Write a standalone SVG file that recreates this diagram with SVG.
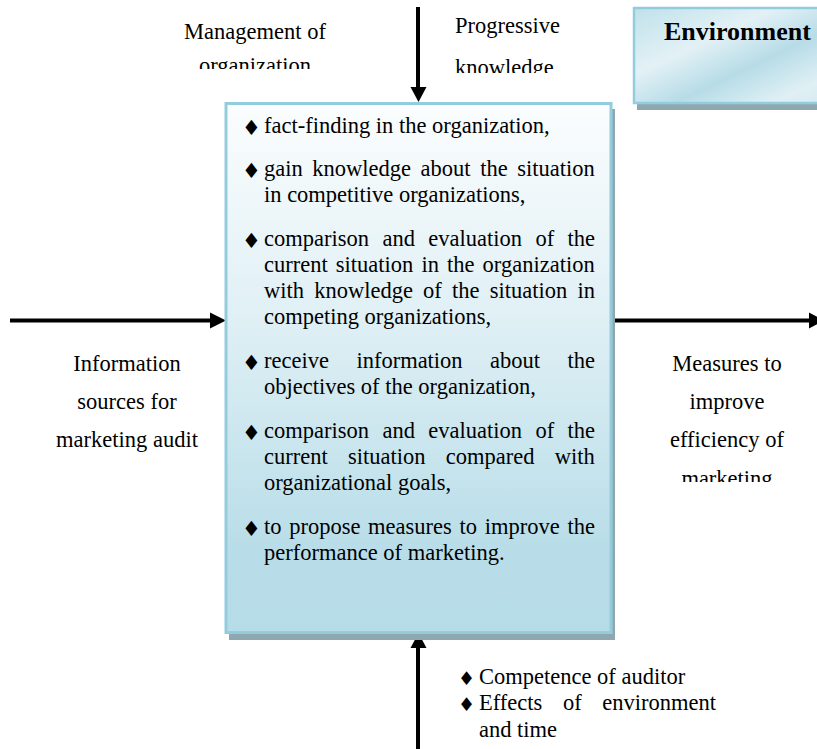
<svg xmlns="http://www.w3.org/2000/svg" width="817" height="749" viewBox="0 0 817 749">
  <style>
    .t { font-family: "Liberation Serif", "Times New Roman", serif; font-size: 22.5px; fill: #000; }
    .c { text-anchor: middle; }
    .b { font-family: "DejaVu Sans", sans-serif; font-size: 21px; fill: #000; }
    .bs { font-family: "DejaVu Sans", sans-serif; font-size: 19px; fill: #000; }
    .h { font-family: "Liberation Serif", "Times New Roman", serif; font-size: 26px; font-weight: bold; fill: #000; }
    .shadow { fill: #8FA8B0; }
    .arrow { stroke: #000; stroke-width: 4; fill: none; }
    .head { fill: #000; }
  </style>
  <defs>
    <linearGradient id="boxFill" x1="0" y1="0" x2="0" y2="1">
      <stop offset="0" stop-color="#FBFDFE"/>
      <stop offset="0.4" stop-color="#E0F0F5"/>
      <stop offset="0.85" stop-color="#B8DDE8"/>
      <stop offset="1" stop-color="#B6DCE7"/>
    </linearGradient>
    <linearGradient id="envFill" x1="0" y1="0" x2="1" y2="1">
      <stop offset="0" stop-color="#BFE1EA"/>
      <stop offset="0.35" stop-color="#E3F1F6"/>
      <stop offset="0.6" stop-color="#B7DCE7"/>
      <stop offset="0.85" stop-color="#E0F0F5"/>
      <stop offset="1" stop-color="#D2EAF1"/>
    </linearGradient>
    <clipPath id="clipMgmt"><rect x="150" y="0" width="220" height="69"/></clipPath>
    <clipPath id="clipProg"><rect x="440" y="0" width="140" height="73"/></clipPath>
    <clipPath id="clipMeas"><rect x="640" y="340" width="175" height="142"/></clipPath>
  </defs>

  <!-- connectors -->
  <g id="connectors">
    <line class="arrow" x1="418" y1="7" x2="418" y2="89"/>
    <polygon class="head" points="410.5,87 426.5,87 418.5,102"/>
    <line class="arrow" x1="418" y1="749" x2="418" y2="646"/>
    <polygon class="head" points="410.5,648 426.5,648 418.5,633"/>
    <line class="arrow" x1="10" y1="320.5" x2="212" y2="320.5"/>
    <polygon class="head" points="210,312.5 210,328.5 226,320.5"/>
    <line class="arrow" x1="612" y1="320.5" x2="812" y2="320.5"/>
    <polygon class="head" points="809,312.5 809,328.5 824,320.5"/>
  </g>

  <!-- central process box -->
  <g id="audit-box">
    <rect class="shadow" x="229" y="109" width="386" height="531"/>
    <rect x="226" y="103.5" width="385" height="529" fill="url(#boxFill)" stroke="#93CDDD" stroke-width="3"/>
    <g class="b">
      <text x="242" y="135">♦</text>
      <text x="242" y="178">♦</text>
      <text x="242" y="248">♦</text>
      <text x="242" y="370">♦</text>
      <text x="242" y="440">♦</text>
      <text x="242" y="536">♦</text>
    </g>
    <text class="t" x="264" y="133">fact-finding in the organization,</text>
    <text class="t" y="176"><tspan x="264">gain</tspan><tspan x="312.3">knowledge</tspan><tspan x="420.6">about</tspan><tspan x="480.2">the</tspan><tspan x="517.3">situation</tspan></text>
    <text class="t" x="264" y="202">in competitive organizations,</text>
    <text class="t" y="246"><tspan x="264">comparison</tspan><tspan x="382.4">and</tspan><tspan x="428.3">evaluation</tspan><tspan x="535.4">of</tspan><tspan x="567.5">the</tspan></text>
    <text class="t" y="272"><tspan x="264">current</tspan><tspan x="335.8">situation</tspan><tspan x="421.4">in</tspan><tspan x="447">the</tspan><tspan x="482.6">organization</tspan></text>
    <text class="t" y="298"><tspan x="264">with</tspan><tspan x="314.2">knowledge</tspan><tspan x="423.1">of</tspan><tspan x="452">the</tspan><tspan x="489.7">situation</tspan><tspan x="577.4">in</tspan></text>
    <text class="t" x="264" y="324">competing organizations,</text>
    <text class="t" y="368"><tspan x="264">receive</tspan><tspan x="356.4">information</tspan><tspan x="490">about</tspan><tspan x="567.4">the</tspan></text>
    <text class="t" x="264" y="394">objectives of the organization,</text>
    <text class="t" y="438"><tspan x="264">comparison</tspan><tspan x="382.4">and</tspan><tspan x="428.3">evaluation</tspan><tspan x="535.4">of</tspan><tspan x="567.5">the</tspan></text>
    <text class="t" y="464"><tspan x="264">current</tspan><tspan x="348">situation</tspan><tspan x="445.8">compared</tspan><tspan x="554.8">with</tspan></text>
    <text class="t" x="264" y="490">organizational goals,</text>
    <text class="t" y="534"><tspan x="264">to</tspan><tspan x="289.2">propose</tspan><tspan x="368.1">measures</tspan><tspan x="459.5">to</tspan><tspan x="484.7">improve</tspan><tspan x="567.4">the</tspan></text>
    <text class="t" x="264" y="560">performance of marketing.</text>
  </g>

  <!-- environment box -->
  <g id="environment">
    <rect class="shadow" x="637" y="14" width="200" height="96"/>
    <rect x="634" y="8" width="200" height="95" fill="url(#envFill)" stroke="#93CDDD" stroke-width="2.5"/>
    <text class="h" x="664" y="40">Environment</text>
  </g>

  <!-- control input labels -->
  <g id="management">
    <g clip-path="url(#clipMgmt)">
      <text class="t c" x="255" y="39">Management of</text>
      <text class="t c" x="255" y="73">organization</text>
    </g>
  </g>

  <g id="progressive-knowledge">
    <g clip-path="url(#clipProg)">
      <text class="t" x="455" y="33">Progressive</text>
      <text class="t" x="455" y="75">knowledge</text>
    </g>
  </g>

  <!-- input label -->
  <g id="information-sources">
    <text class="t c" x="127" y="371">Information</text>
    <text class="t c" x="127" y="409">sources for</text>
    <text class="t c" x="127" y="447">marketing audit</text>
  </g>

  <!-- output label -->
  <g id="measures">
    <g clip-path="url(#clipMeas)">
      <text class="t c" x="727" y="371">Measures to</text>
      <text class="t c" x="727" y="409">improve</text>
      <text class="t c" x="727" y="447">efficiency of</text>
      <text class="t c" x="727" y="486">marketing</text>
    </g>
  </g>

  <!-- mechanism label -->
  <g id="mechanisms">
    <text class="bs" x="458" y="685">♦</text>
    <text class="bs" x="458" y="711">♦</text>
    <text class="t" x="479" y="684">Competence of auditor</text>
    <text class="t" y="710"><tspan x="479">Effects</tspan><tspan x="563.1">of</tspan><tspan x="602.2">environment</tspan></text>
    <text class="t" x="479" y="737">and time</text>
  </g>
</svg>
